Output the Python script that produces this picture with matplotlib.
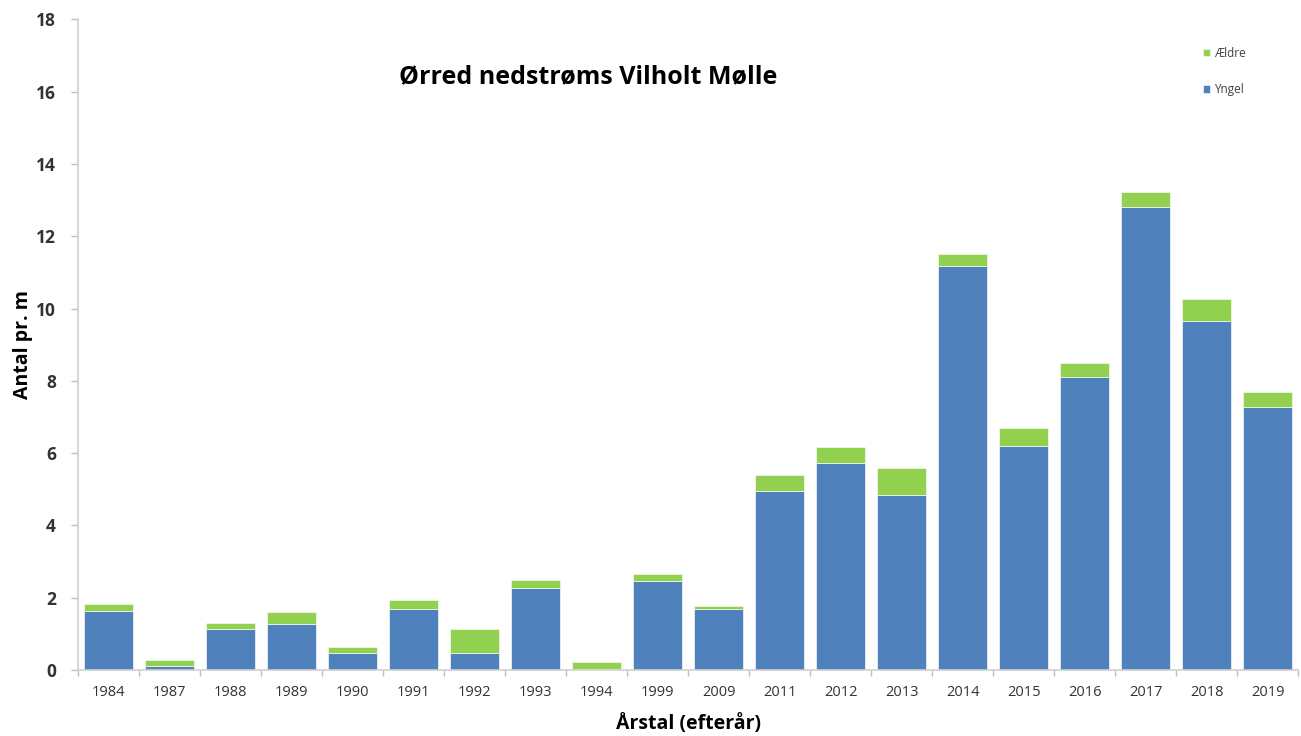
import matplotlib
matplotlib.use("Agg")
import matplotlib.pyplot as plt
import numpy as np

years = ["1984", "1987", "1988", "1989", "1990", "1991", "1992", "1993", "1994", "1999",
         "2009", "2011", "2012", "2013", "2014", "2015", "2016", "2017", "2018", "2019"]
yngel = [1.63, 0.12, 1.13, 1.27, 0.47, 1.69, 0.47, 2.27, 0.02, 2.46,
         1.69, 4.95, 5.72, 4.84, 11.18, 6.19, 8.10, 12.80, 9.65, 7.27]
total = [1.82, 0.28, 1.30, 1.60, 0.64, 1.94, 1.13, 2.49, 0.22, 2.65,
         1.77, 5.39, 6.17, 5.60, 11.50, 6.69, 8.49, 13.22, 10.27, 7.68]
aeldre = [t - y for t, y in zip(total, yngel)]

plt.rcParams['font.family'] = ['Open Sans', 'DejaVu Sans']

fig = plt.figure(figsize=(13.01, 7.36), dpi=100)
ax = fig.add_axes([0.060, 0.0897, 0.938, 0.884])

x = np.arange(len(years))
blue = "#4F81BD"
green = "#92D050"
ax.bar(x, yngel, width=0.8, color=blue, edgecolor="#E8EEF7", linewidth=0.6, label="Yngel", zorder=2)
ax.bar(x, aeldre, bottom=yngel, width=0.8, color=green, edgecolor="#EEF6E6", linewidth=0.6, label="Ældre", zorder=2)

ax.set_xlim(-0.5, len(years) - 0.5)
ax.set_ylim(0, 18)
ax.set_yticks(np.arange(0, 19, 2))
ax.set_yticklabels([str(v) for v in range(0, 19, 2)], fontsize=12.5, fontweight='bold', color="#333333")
ax.set_xticks(x)
ax.set_xticklabels(years, fontsize=10.5, color="#333333")
ax.tick_params(axis='x', which='major', length=0, pad=11)
ax.set_xticks(np.arange(-0.5, len(years), 1), minor=True)
ax.tick_params(axis='x', which='minor', length=4, color="#BFBFBF", width=1)
ax.tick_params(axis='y', length=5, color="#BFBFBF", width=1, pad=11)

for s in ["top", "right"]:
    ax.spines[s].set_visible(False)
for s in ["left", "bottom"]:
    ax.spines[s].set_color("#D0D0D0")
    ax.spines[s].set_linewidth(1.2)

ax.set_ylabel("Antal pr. m", fontsize=14, fontweight='bold', labelpad=2)
ax.set_xlabel("Årstal (efterår)", fontsize=14, fontweight='bold', labelpad=10)

fig.text(0.452, 0.896, "Ørred nedstrøms Vilholt Mølle", fontsize=18, fontweight='bold',
         ha='center', va='center')

handles, labels = ax.get_legend_handles_labels()
leg = ax.legend(handles[::-1], labels[::-1], loc='upper left', bbox_to_anchor=(0.913, 0.974),
                frameon=False, fontsize=8.5, handlelength=0.6, handleheight=0.6,
                labelspacing=1.97, handletextpad=0.35)
for t in leg.get_texts():
    t.set_color("#404040")

fig.savefig("out.png", dpi=100)
